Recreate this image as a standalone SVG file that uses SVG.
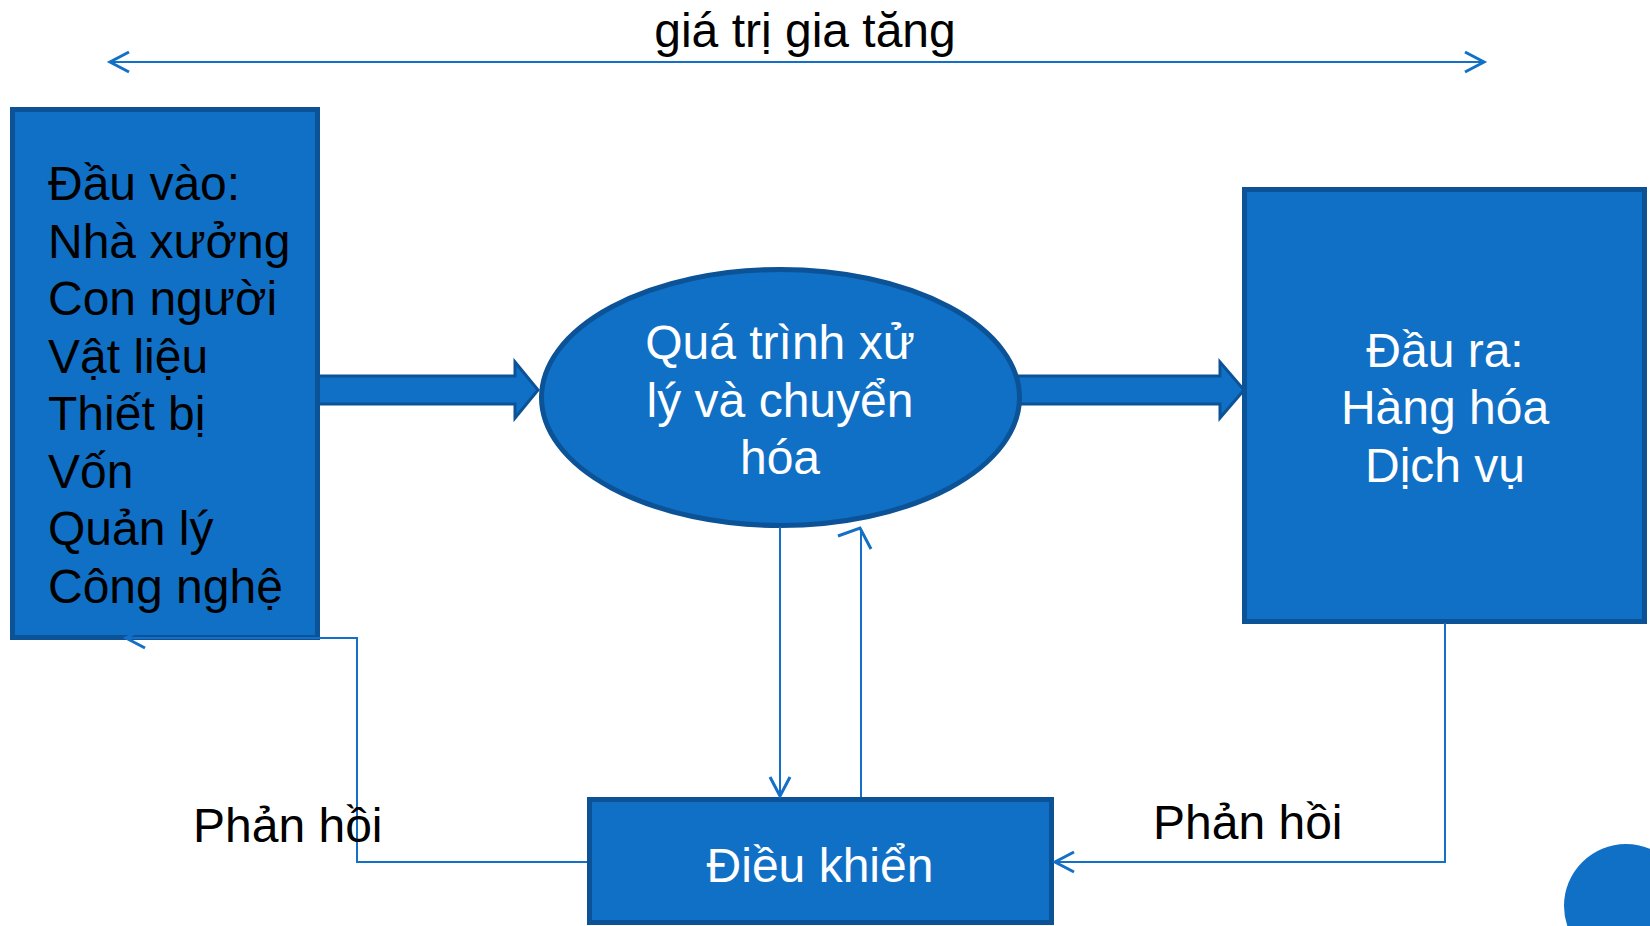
<svg xmlns="http://www.w3.org/2000/svg" xmlns:xlink="http://www.w3.org/1999/xlink" width="1650" height="926" viewBox="0 0 1650 926">
  <style>
    .shape { fill: #1070C6; stroke: #0B5297; stroke-width: 5; }
    .fat { fill: #1070C6; stroke: #0B5297; stroke-width: 3; stroke-linejoin: miter; }
    .wire { fill: none; stroke: #1370C6; stroke-width: 2; }
    .head { fill: none; stroke: #1370C6; stroke-width: 3; }
    .txt { font-family: "Liberation Sans", Arial, sans-serif; font-size: 48px; }
    .dark { fill: #000000; }
    .light { fill: #FFFFFF; }
    .mid { text-anchor: middle; }
  </style>
  <defs>
    <!-- open chevron pointing along +x, tip at origin -->
    <path id="chev" d="M-19,-10 L0,0 L-19,10"/>
  </defs>

  <rect width="1650" height="926" fill="#FFFFFF"/>

  <!-- value-added span -->
  <g id="value-added">
    <text class="txt dark mid" x="805" y="47">giá trị gia tăng</text>
    <line class="wire" x1="111" y1="62" x2="1483" y2="62"/>
    <use xlink:href="#chev" class="head" transform="translate(110,62) rotate(180)"/>
    <use xlink:href="#chev" class="head" transform="translate(1484,62)"/>
  </g>

  <!-- block arrows between the main stages -->
  <g id="flow-arrows">
    <path class="fat" d="M300,376 H515 V362 L538,390 L515,418 V404 H300 Z"/>
    <path class="fat" d="M1000,376 H1220 V362 L1244,390 L1220,418 V404 H1000 Z"/>
  </g>

  <g id="inputs">
    <rect class="shape" x="12.5" y="109.5" width="305" height="528"/>
    <text class="txt dark" x="48" y="200">Đầu vào:</text>
    <text class="txt dark" x="48" y="257.5">Nhà xưởng</text>
    <text class="txt dark" x="48" y="315">Con người</text>
    <text class="txt dark" x="48" y="372.5">Vật liệu</text>
    <text class="txt dark" x="48" y="430">Thiết bị</text>
    <text class="txt dark" x="48" y="487.5">Vốn</text>
    <text class="txt dark" x="48" y="545">Quản lý</text>
    <text class="txt dark" x="48" y="602.5">Công nghệ</text>
  </g>

  <g id="process">
    <ellipse class="shape" cx="780.5" cy="397.5" rx="239" ry="128"/>
    <text class="txt light mid" x="780" y="359">Quá trình xử</text>
    <text class="txt light mid" x="780" y="417">lý và chuyển</text>
    <text class="txt light mid" x="780" y="474">hóa</text>
  </g>

  <g id="outputs">
    <rect class="shape" x="1244.5" y="189.5" width="400" height="432"/>
    <text class="txt light mid" x="1445" y="367">Đầu ra:</text>
    <text class="txt light mid" x="1445" y="424">Hàng hóa</text>
    <text class="txt light mid" x="1445" y="482">Dịch vụ</text>
  </g>

  <g id="control">
    <rect class="shape" x="589.5" y="799.5" width="462" height="123"/>
    <text class="txt light mid" x="820" y="882">Điều khiển</text>
  </g>

  <!-- control and feedback connectors -->
  <g id="connectors">
    <line class="wire" x1="780" y1="527" x2="780" y2="795"/>
    <use xlink:href="#chev" class="head" transform="translate(780,796) rotate(90)"/>

    <line class="wire" x1="861" y1="797" x2="861" y2="531"/>
    <path class="head" stroke-width="4" d="M838,536 L860,528 L871,549"/>

    <polyline class="wire" points="587,862 357,862 357,638 128,638"/>
    <use xlink:href="#chev" class="head" transform="translate(126,638) rotate(180)"/>

    <polyline class="wire" points="1445,623 1445,862 1057,862"/>
    <use xlink:href="#chev" class="head" transform="translate(1055,862) rotate(180)"/>

    <text class="txt dark" x="193" y="842">Phản hồi</text>
    <text class="txt dark" x="1153" y="839">Phản hồi</text>
  </g>

  <circle id="corner-dot" cx="1626" cy="906" r="62" fill="#1070C6"/>
</svg>
